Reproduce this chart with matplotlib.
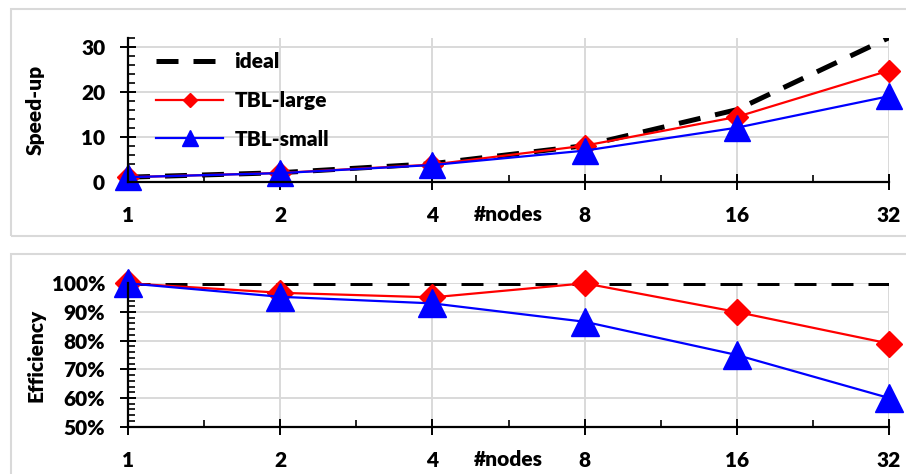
import matplotlib
matplotlib.use("Agg")
import matplotlib.pyplot as plt
from matplotlib.lines import Line2D
from matplotlib.patches import Rectangle
from matplotlib.ticker import FixedLocator, MultipleLocator, PercentFormatter

plt.rcParams["font.family"] = ["Lato", "DejaVu Sans"]
plt.rcParams["font.weight"] = "heavy"

# ===== DATOS =====

nodes = ["1", "2", "4", "8", "16", "32"]

ideal_speedup = [1, 2, 4, 8, 16, 32]
large_speedup = [1, 1.94, 3.8, 8.0, 14.4, 24.7]
small_speedup = [1, 1.9, 3.7, 6.9, 12.0, 19.0]

ideal_eff = [1.0, 1.0, 1.0, 1.0, 1.0, 1.0]
large_eff = [1.0, 0.967, 0.951, 1.0, 0.90, 0.79]
small_eff = [1.0, 0.953, 0.93, 0.866, 0.75, 0.60]

GRID = "#d9d9d9"
FS = 15
W = "heavy"

x = list(range(len(nodes)))

fig = plt.figure(figsize=(9.06, 4.74), dpi=100)

# marcos de cada grafica
fig.add_artist(Rectangle((0.0121, 0.502), 1.2, 0.479, transform=fig.transFigure,
                         fill=False, edgecolor=GRID, lw=1.5))
fig.add_artist(Rectangle((0.0121, -0.2), 1.2, 0.665, transform=fig.transFigure,
                         fill=False, edgecolor=GRID, lw=1.5))

ax1 = fig.add_axes([0.1413, 0.6167, 0.840, 0.3038])
ax2 = fig.add_axes([0.1413, 0.0998, 0.840, 0.3025])


def estilo(ax):
    for s in ["top", "right"]:
        ax.spines[s].set_visible(False)
    for s in ["left", "bottom"]:
        ax.spines[s].set_linewidth(1.6)
    ax.set_xlim(0, len(nodes) - 1)
    ax.set_xticks(x)
    ax.set_xticklabels(nodes)
    ax.xaxis.set_minor_locator(FixedLocator([i + 0.5 for i in x[:-1]]))
    ax.tick_params(axis="both", which="major", direction="inout", length=11,
                   width=1.4, labelsize=FS)
    ax.tick_params(axis="x", which="major", pad=12)
    ax.tick_params(axis="y", which="major", pad=11)
    ax.tick_params(axis="both", which="minor", direction="in", length=5, width=1.2)
    ax.grid(True, which="major", color=GRID, lw=1.4)
    ax.set_axisbelow(True)
    for lab in ax.get_xticklabels() + ax.get_yticklabels():
        lab.set_fontweight(W)
    ax.set_xlabel("#nodes", fontsize=FS, fontweight=W, va="top")
    ax.xaxis.set_label_coords(0.5, -0.165)


# ===== SPEED-UP =====

ax1.plot(x, ideal_speedup, color="black", lw=3.6, ls=(0, (4.4, 3)))
ax1.plot(x, large_speedup, color="#ff0000", lw=1.6, marker="D", ms=11.5, clip_on=False)
ax1.plot(x, small_speedup, color="#0000ff", lw=1.6, marker="^", ms=18.5, clip_on=False)
ax1.set_ylim(0, 32)
ax1.set_yticks([0, 10, 20, 30])
ax1.yaxis.set_minor_locator(MultipleLocator(2))
estilo(ax1)
ax1.set_ylabel("Speed-up", fontsize=FS, fontweight=W)
ax1.yaxis.set_label_coords(-0.109, 0.5)

handles = [
    Line2D([], [], color="black", lw=3.6, ls=(0, (4.4, 3))),
    Line2D([], [], color="#ff0000", lw=1.6, marker="D", ms=7.5),
    Line2D([], [], color="#0000ff", lw=1.6, marker="^", ms=11),
]
ax1.legend(handles, ["ideal", "TBL-large", "TBL-small"], loc="upper left",
           bbox_to_anchor=(0.037, 0.90), frameon=False,
           prop={"weight": W, "size": FS}, handlelength=3.2,
           handletextpad=0.55, labelspacing=0.95, borderpad=0, borderaxespad=0)

# ===== EFICIENCIA =====

ax2.plot(x, ideal_eff, color="black", lw=3.6, ls=(0, (4.4, 3)))
ax2.plot(x, large_eff, color="#ff0000", lw=1.6, marker="D", ms=13, clip_on=False)
ax2.plot(x, small_eff, color="#0000ff", lw=1.6, marker="^", ms=20, clip_on=False)
ax2.set_ylim(0.5, 1.0)
ax2.set_yticks([0.5, 0.6, 0.7, 0.8, 0.9, 1.0])
ax2.yaxis.set_minor_locator(MultipleLocator(0.02))
ax2.yaxis.set_major_formatter(PercentFormatter(1.0, decimals=0))
estilo(ax2)
ax2.set_ylabel("Efficiency", fontsize=FS, fontweight=W)
ax2.yaxis.set_label_coords(-0.109, 0.5)

plt.savefig("out.png", dpi=100)
plt.close()
